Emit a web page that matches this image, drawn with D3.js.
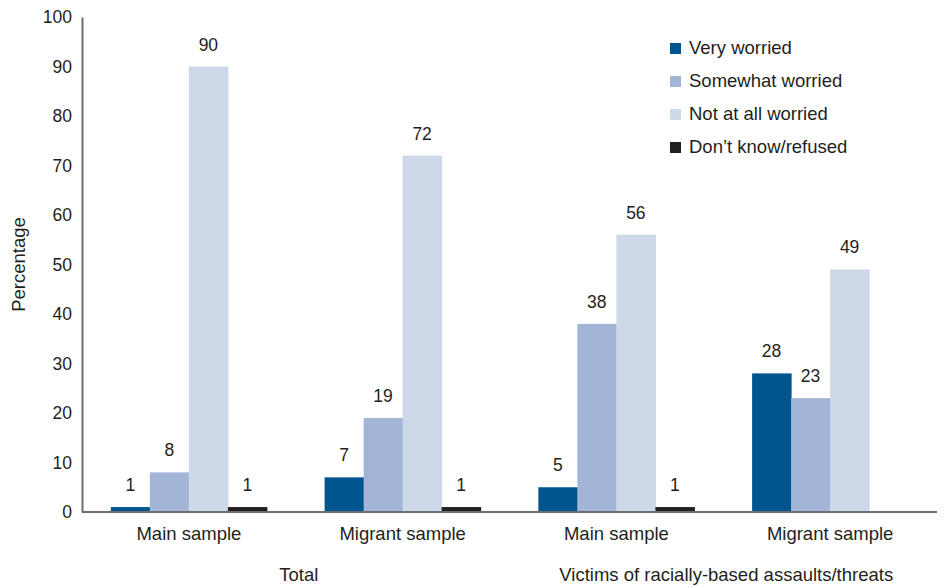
<!DOCTYPE html>
<html lang="en">
<head>
<meta charset="utf-8">
<title>Worry about racially-based assaults</title>
<script src="https://cdn.jsdelivr.net/npm/d3@7"></script>
<style>
body { margin: 0; background: #fff; }
text { font-family: "Liberation Sans", Arial, sans-serif; fill: #231f20; }
</style>
</head>
<body>
<script>
// data
var groups = ["Main sample", "Migrant sample", "Main sample ", "Migrant sample "];
var series = ["Very worried", "Somewhat worried", "Not at all worried", "Don\u2019t know/refused"];
var veryWorried = [1, 7, 5, 28];
var somewhatWorried = [8, 19, 38, 23];
var notWorried = [90, 72, 56, 49];
var dontKnow = [1, 1, 1, null];
var yTicks = [0, 10, 20, 30, 40, 50, 60, 70, 80, 90, 100];
var colors = ["#00558f", "#a3b5d6", "#cdd9e9", "#231f20"];
var superGroups = [
  { label: "Total", from: 0, to: 1 },
  { label: "Victims of racially-based assaults/threats", from: 2, to: 3 }
];

var values = [veryWorried, somewhatWorried, notWorried, dontKnow];

var w = 944, h = 587;
var margin = { left: 82, right: 7, top: 17, bottom: 75 };
var fs = "17.5px";     // ticks, value labels
var fsLabel = "18.5px"; // category labels, legend

var svg = d3.select("body").append("svg")
  .attr("width", w)
  .attr("height", h);

var x0 = d3.scaleBand()
  .domain(groups)
  .range([margin.left, w - margin.right])
  .paddingInner(0.27)
  .paddingOuter(0.135);

var x1 = d3.scaleBand()
  .domain(series)
  .range([0, x0.bandwidth()]);

var y = d3.scaleLinear()
  .domain([0, 100])
  .range([h - margin.bottom, margin.top]);

// bars
var g = svg.selectAll("g.group")
  .data(groups)
  .enter()
  .append("g")
  .attr("class", "group")
  .attr("transform", function(d) { return "translate(" + x0(d) + ",0)"; });

g.each(function(grp, gi) {
  var cells = series.map(function(s, si) {
    return { s: s, i: si, v: values[si][gi] };
  }).filter(function(c) { return c.v != null; });

  var sel = d3.select(this);
  sel.selectAll("rect")
    .data(cells)
    .enter()
    .append("rect")
    .attr("x", function(c) { return x1(c.s); })
    .attr("width", x1.bandwidth() + 0.5)
    .attr("y", function(c) { return y(c.v); })
    .attr("height", function(c) { return y(0) - y(c.v); })
    .attr("fill", function(c) { return colors[c.i]; });

  sel.selectAll("text")
    .data(cells)
    .enter()
    .append("text")
    .attr("x", function(c) { return x1(c.s) + x1.bandwidth() / 2; })
    .attr("y", function(c) { return y(c.v) - 16; })
    .attr("text-anchor", "middle")
    .style("font-size", fs)
    .text(function(c) { return c.v; });
});

// y axis
var yAxis = d3.axisLeft(y)
  .tickValues(yTicks)
  .tickSize(0)
  .tickPadding(10);

var ya = svg.append("g")
  .attr("transform", "translate(" + margin.left + ",0)")
  .call(yAxis);
ya.select(".domain").attr("stroke", "#6d6e71").attr("stroke-width", 2);
ya.selectAll("text").style("font-size", fs).attr("fill", "#231f20");

// x axis
var xAxis = d3.axisBottom(x0)
  .tickSize(0)
  .tickPadding(15);

var xa = svg.append("g")
  .attr("transform", "translate(0," + y(0) + ")")
  .call(xAxis);
xa.select(".domain").attr("stroke", "#6d6e71").attr("stroke-width", 2)
  .attr("d", "M" + margin.left + ",0H" + (w - margin.right));
xa.selectAll("text").style("font-size", fsLabel).attr("fill", "#231f20");

// group labels
svg.selectAll("text.super")
  .data(superGroups)
  .enter()
  .append("text")
  .attr("class", "super")
  .attr("x", function(d) {
    return (x0(groups[d.from]) + x0(groups[d.to]) + x0.bandwidth()) / 2 + 3;
  })
  .attr("y", 581)
  .attr("text-anchor", "middle")
  .style("font-size", fsLabel)
  .text(function(d) { return d.label; });

// y label
svg.append("text")
  .attr("transform", "translate(25," + ((y(0) + y(100)) / 2) + ") rotate(-90)")
  .attr("text-anchor", "middle")
  .style("font-size", fsLabel)
  .text("Percentage");

// legend
var legend = svg.selectAll("g.legend")
  .data(series)
  .enter()
  .append("g")
  .attr("class", "legend")
  .attr("transform", function(d, i) { return "translate(670," + (47 + i * 33) + ")"; });

legend.append("rect")
  .attr("x", 0)
  .attr("y", -4)
  .attr("width", 11)
  .attr("height", 11)
  .attr("fill", function(d, i) { return colors[i]; });

legend.append("text")
  .attr("x", 19)
  .attr("y", 7)
  .style("font-size", fsLabel)
  .text(function(d) { return d; });
</script>
</body>
</html>
